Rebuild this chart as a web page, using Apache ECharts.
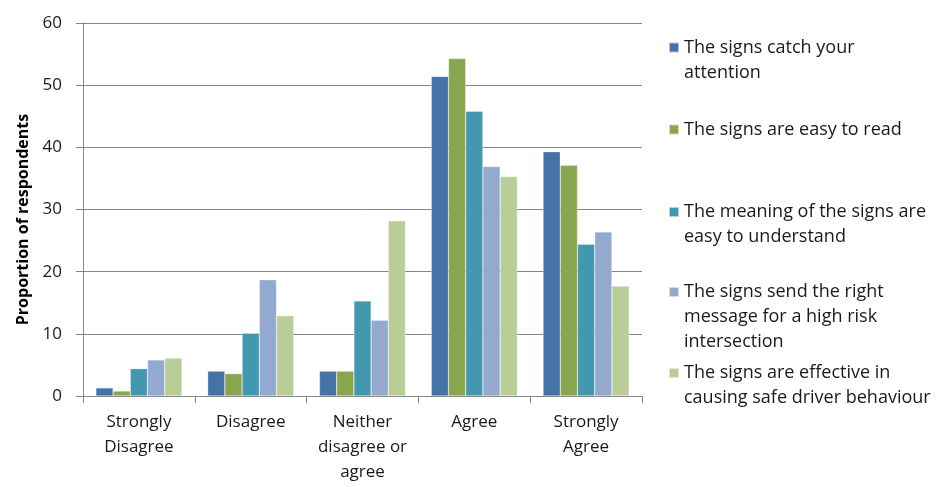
<!DOCTYPE html>
<html><head><meta charset="utf-8">
<script src="https://cdn.jsdelivr.net/npm/echarts@6/dist/echarts.min.js"></script>
<style>html,body{margin:0;padding:0;background:#fff}#c{width:948px;height:487px}</style>
</head><body><div id="c"></div>
<script>
const categories = ['Strongly\nDisagree', 'Disagree', 'Neither\ndisagree or\nagree', 'Agree', 'Strongly\nAgree'];
const seriesNames = [
  'The signs catch your attention',
  'The signs are easy to read',
  'The meaning of the signs are easy to understand',
  'The signs send the right message for a high risk intersection',
  'The signs are effective in causing safe driver behaviour'
];
const legendLabels = [
  'The signs catch your\nattention',
  'The signs are easy to read',
  'The meaning of the signs are\neasy to understand',
  'The signs send the right\nmessage for a high risk\nintersection',
  'The signs are effective in\ncausing safe driver behaviour'
];
const catchAttention = [1.3, 4.0, 4.0, 51.4, 39.3];
const easyToRead = [0.8, 3.6, 4.0, 54.3, 37.1];
const easyToUnderstand = [4.4, 10.1, 15.3, 45.8, 24.4];
const rightMessage = [5.8, 18.7, 12.2, 36.9, 26.4];
const effective = [6.1, 12.9, 28.2, 35.3, 17.7];
const yTicks = [0, 10, 20, 30, 40, 50, 60];

const values = [catchAttention, easyToRead, easyToUnderstand, rightMessage, effective];
const colors = ['#4572A7', '#89A54E', '#4198AF', '#93A9CF', '#B9CD96'];
const legendCenters = [47.5, 129.5, 212, 292, 373];
const font = '"Open Sans", Lato, sans-serif';
const LH = 25;

const legends = seriesNames.map((name, i) => {
  const n = legendLabels[i].split('\n').length;
  return {
    data: [name],
    left: 668,
    top: legendCenters[i] - (2 * n - 1) * LH / 2,
    orient: 'vertical',
    padding: 0,
    itemWidth: 10,
    itemHeight: 10,
    icon: 'rect',
    selectedMode: false,
    formatter: () => '\n'.repeat(n - 1) + legendLabels[i],
    textStyle: {
      fontFamily: font, fontSize: 18, color: '#1a1a1a', lineHeight: LH
    }
  };
});

const chart = echarts.init(document.getElementById('c'));
chart.setOption({
  animation: false,
  color: colors,
  grid: { left: 83, right: 306, top: 23, bottom: 91, containLabel: false },
  legend: legends,
  xAxis: {
    type: 'category',
    data: categories,
    axisLine: { lineStyle: { color: '#868686', width: 1 } },
    axisTick: { show: true, alignWithLabel: false, length: 7, lineStyle: { color: '#868686' } },
    axisLabel: { fontFamily: font, fontSize: 17, color: '#1a1a1a', lineHeight: 25, margin: 14, interval: 0 }
  },
  yAxis: {
    type: 'value',
    min: 0, max: 60, interval: 10,
    name: 'Proportion of respondents',
    nameLocation: 'middle',
    nameGap: 52,
    nameTextStyle: { fontFamily: font, fontSize: 16, fontWeight: 'bold', color: '#000', padding: [0, 20, 0, 0] },
    axisLine: { show: true, lineStyle: { color: '#868686' } },
    axisTick: { show: true, length: 7, lineStyle: { color: '#868686' } },
    axisLabel: {
      fontFamily: font, fontSize: 17, color: '#1a1a1a', margin: 21,
      formatter: v => yTicks.includes(v) ? String(v) : ''
    },
    splitLine: { lineStyle: { color: '#868686', width: 1 } }
  },
  series: seriesNames.map((name, i) => ({
    name, type: 'bar', data: values[i],
    barGap: '0%', barCategoryGap: '23%',
    itemStyle: { color: colors[i], borderColor: 'rgba(255,255,255,0.6)', borderWidth: 0.5 }
  }))
});
</script></body></html>
